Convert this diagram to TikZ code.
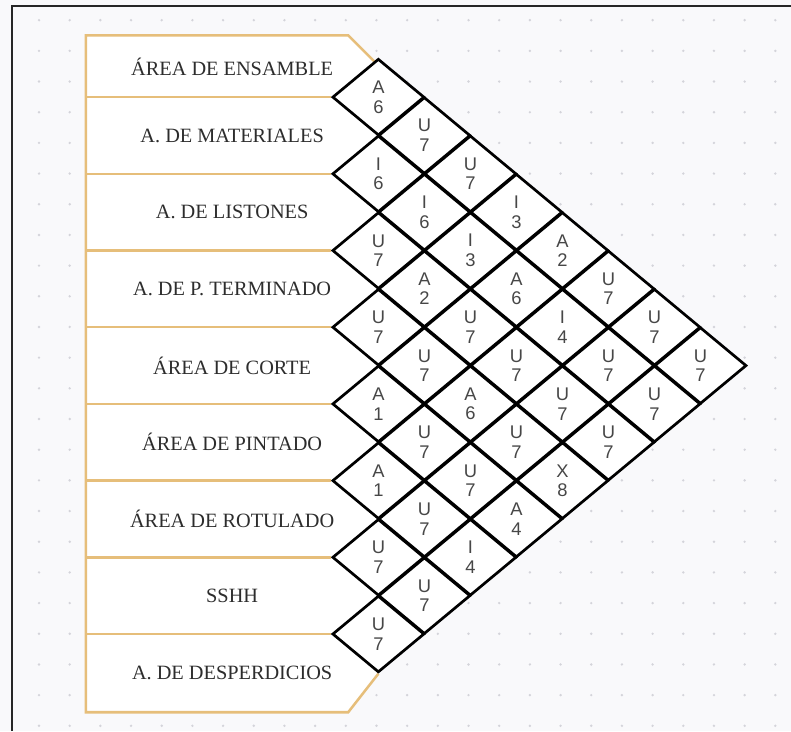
\documentclass[tikz,border=0pt]{standalone}
\usepackage{fontspec}
\setmainfont{Liberation Serif}
\setsansfont{Liberation Sans}
\usepackage{tikz}
\usetikzlibrary{shapes.geometric,backgrounds}

\definecolor{tanline}{RGB}{230,190,122}
\definecolor{sheetbg}{RGB}{249,249,251}
\definecolor{sheetdot}{RGB}{212,212,218}
\definecolor{inkgray}{RGB}{45,45,45}

\begin{document}
\begin{tikzpicture}[
    area/.style={font=\fontsize{11.3}{13}\selectfont, text=inkgray, align=center},
    relbox/.style={diamond, draw=black, line width=1.5pt, fill=white, minimum width=1.8cm, minimum height=1.5cm, inner sep=0pt, align=center, font=\sffamily\fontsize{10.2}{10.9}\selectfont, text=black!72},
    goldline/.style={draw=tanline, line width=1.4pt},
    frameline/.style={draw=black!85, line width=1.2pt}
]
    \useasboundingbox (0,0) rectangle (15.47,14.30);

    % --- AREAS ---
    \node[area] (Ensamble) at (4.54, 13.00) {ÁREA DE ENSAMBLE};
    \node[area] (Materiales) at (4.54, 11.65) {A. DE MATERIALES};
    \node[area] (Listones) at (4.54, 10.15) {A. DE LISTONES};
    \node[area] (Terminado) at (4.54, 8.65) {A. DE P. TERMINADO};
    \node[area] (Corte) at (4.54, 7.15) {ÁREA DE CORTE};
    \node[area] (Pintado) at (4.54, 5.65) {ÁREA DE PINTADO};
    \node[area] (Rotulado) at (4.54, 4.15) {ÁREA DE ROTULADO};
    \node[area] (Sshh) at (4.54, 2.65) {SSHH};
    \node[area] (Desperdicios) at (4.54, 1.13) {A. DE DESPERDICIOS};

    % --- RELATION CELLS ---
    \node[relbox] (R12) at (7.4, 12.40) {A\\6};
    \node[relbox] (R13) at (8.3, 11.65) {U\\7};
    \node[relbox] (R14) at (9.2, 10.90) {U\\7};
    \node[relbox] (R15) at (10.1, 10.15) {I\\3};
    \node[relbox] (R16) at (11.0, 9.40) {A\\2};
    \node[relbox] (R17) at (11.9, 8.65) {U\\7};
    \node[relbox] (R18) at (12.8, 7.90) {U\\7};
    \node[relbox] (R19) at (13.7, 7.15) {U\\7};

    \node[relbox] (R23) at (7.4, 10.90) {I\\6};
    \node[relbox] (R24) at (8.3, 10.15) {I\\6};
    \node[relbox] (R25) at (9.2, 9.40) {I\\3};
    \node[relbox] (R26) at (10.1, 8.65) {A\\6};
    \node[relbox] (R27) at (11.0, 7.90) {I\\4};
    \node[relbox] (R28) at (11.9, 7.15) {U\\7};
    \node[relbox] (R29) at (12.8, 6.40) {U\\7};

    \node[relbox] (R34) at (7.4, 9.40) {U\\7};
    \node[relbox] (R35) at (8.3, 8.65) {A\\2};
    \node[relbox] (R36) at (9.2, 7.90) {U\\7};
    \node[relbox] (R37) at (10.1, 7.15) {U\\7};
    \node[relbox] (R38) at (11.0, 6.40) {U\\7};
    \node[relbox] (R39) at (11.9, 5.65) {U\\7};

    \node[relbox] (R45) at (7.4, 7.90) {U\\7};
    \node[relbox] (R46) at (8.3, 7.15) {U\\7};
    \node[relbox] (R47) at (9.2, 6.40) {A\\6};
    \node[relbox] (R48) at (10.1, 5.65) {U\\7};
    \node[relbox] (R49) at (11.0, 4.90) {X\\8};

    \node[relbox] (R56) at (7.4, 6.40) {A\\1};
    \node[relbox] (R57) at (8.3, 5.65) {U\\7};
    \node[relbox] (R58) at (9.2, 4.90) {U\\7};
    \node[relbox] (R59) at (10.1, 4.15) {A\\4};

    \node[relbox] (R67) at (7.4, 4.90) {A\\1};
    \node[relbox] (R68) at (8.3, 4.15) {U\\7};
    \node[relbox] (R69) at (9.2, 3.40) {I\\4};

    \node[relbox] (R78) at (7.4, 3.40) {U\\7};
    \node[relbox] (R79) at (8.3, 2.65) {U\\7};

    \node[relbox] (R89) at (7.4, 1.90) {U\\7};

    % --- SHEET, DOTS & AREA BOX ---
    \begin{scope}[on background layer]
        \fill[sheetbg] (0,0) rectangle (15.47,14.30);
        \foreach \i in {0,...,24}
            \foreach \j in {0,...,23}
                \fill[sheetdot] (0.763+0.6*\i, 13.905-0.6*\j) circle (0.026);
        \draw[frameline] (0.235,0) -- (0.235,14.18) -- (15.47,14.18);

        \coordinate (BoxNW) at (1.68, 13.61);
        \coordinate (BoxSW) at (1.68, 0.37);
        \coordinate (TopCut) at (6.81, 13.61);
        \coordinate (BotCut) at (6.81, 0.37);
        \coordinate (TopEnd) at (7.33, 13.09);

        \fill[white] (BoxNW) -- (TopCut) -- (TopEnd) -- (R12.center) -- (R89.center) -- (R89.south) -- (BotCut) -- (BoxSW) -- cycle;
        \draw[goldline] (TopEnd) -- (TopCut) -- (BoxNW) -- (BoxSW) -- (BotCut) -- (R89.south);

        % separators between areas
        \draw[goldline] (BoxNW |- R12.west) -- (R12.west);
        \draw[goldline] (BoxNW |- R23.west) -- (R23.west);
        \draw[goldline] (BoxNW |- R34.west) -- (R34.west);
        \draw[goldline] (BoxNW |- R45.west) -- (R45.west);
        \draw[goldline] (BoxNW |- R56.west) -- (R56.west);
        \draw[goldline] (BoxNW |- R67.west) -- (R67.west);
        \draw[goldline] (BoxNW |- R78.west) -- (R78.west);
        \draw[goldline] (BoxNW |- R89.west) -- (R89.west);
    \end{scope}

\end{tikzpicture}
\end{document}
